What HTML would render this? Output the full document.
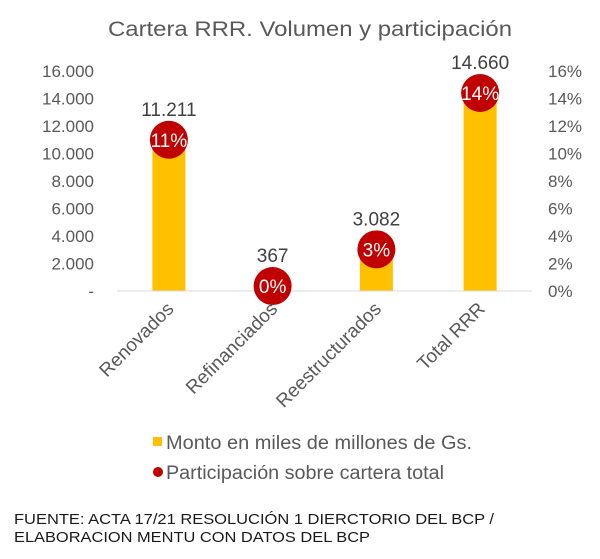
<!DOCTYPE html>
<html><head><meta charset="utf-8"><style>
body{margin:0;background:#fff;}
svg{display:block;font-family:"Liberation Sans",sans-serif;}
</style></head><body>
<svg width="600" height="559" viewBox="0 0 600 559" id="c">
<text x="108" y="36" font-size="21" fill="#595959" textLength="404" lengthAdjust="spacingAndGlyphs">Cartera RRR.  Volumen  y participación</text>
<g id="plot"></g>
<g>
<rect x="153" y="437" width="9" height="9" fill="#FFC000"/>
<text x="166" y="449" font-size="19" fill="#595959" textLength="306" lengthAdjust="spacingAndGlyphs">Monto en miles de millones de Gs.</text>
<circle cx="158" cy="472" r="5" fill="#C00000"/>
<text x="166" y="479" font-size="19" fill="#595959" textLength="278" lengthAdjust="spacingAndGlyphs">Participación sobre cartera total</text>
</g>
<text x="14" y="524" font-size="15" fill="#1a1a1a" textLength="480" lengthAdjust="spacingAndGlyphs">FUENTE: ACTA 17/21 RESOLUCIÓN 1 DIERCTORIO DEL BCP /</text>
<text x="14" y="542" font-size="15" fill="#1a1a1a" textLength="356" lengthAdjust="spacingAndGlyphs">ELABORACION MENTU CON DATOS DEL BCP</text>
</svg>
<script>
const categories=["Renovados","Refinanciados","Reestructurados","Total RRR"];
const montos=[11211,367,3082,14660];
const montoLabels=["11.211","367","3.082","14.660"];
const shares=[11.0,0.36,3.03,14.4];
const shareLabels=["11%","0%","3%","14%"];
const leftTicks=[0,2000,4000,6000,8000,10000,12000,14000,16000];
const leftTickLabels=["-","2.000","4.000","6.000","8.000","10.000","12.000","14.000","16.000"];
const rightTicks=[0,2,4,6,8,10,12,14,16];

const NS="http://www.w3.org/2000/svg";
const g=document.getElementById('plot');
const x0=117,x1=532,y0=291,y1=71;
const band=(x1-x0)/categories.length;
const xC=i=>x0+band*(i+0.5);
const yL=v=>y0-(v/16000)*(y0-y1);
const yR=v=>y0-(v/16)*(y0-y1);
function mk(t,a,txt){const e=document.createElementNS(NS,t);for(const k in a)e.setAttribute(k,a[k]);if(txt!=null)e.textContent=txt;g.appendChild(e);return e;}
leftTicks.forEach((v,i)=>{
 const e=mk('text',{x:94,y:yL(v)+6,'text-anchor':'end','font-size':17,fill:'#595959'},leftTickLabels[i]);
 
 
});
rightTicks.forEach(v=>{
 const e=mk('text',{x:548,y:yR(v)+6,'font-size':17,fill:'#595959'},v+'%');
 
 
});
const bw=33;
montos.forEach((v,i)=>{
 const r=mk('rect',{x:xC(i)-bw/2,y:yL(v),width:bw,height:y0-yL(v),fill:'#FFC000'});
 
 
});
const ax=mk('line',{x1:x0,y1:y0,x2:x1,y2:y0,stroke:'#d9d9d9','stroke-width':1});


shares.forEach((v,i)=>{
 const cy=yR(v);
 const c=mk('circle',{cx:xC(i),cy:cy,r:19,fill:'#C00000'});
 
 
 const t=mk('text',{x:xC(i),y:cy+7,'text-anchor':'middle','font-size':19,fill:'#fff'},shareLabels[i]);
 
 
 const lbl=mk('text',{x:xC(i),y:cy-24,'text-anchor':'middle','font-size':19,fill:'#404040'},montoLabels[i]);
 
 
});
categories.forEach((c,i)=>{
 const px=xC(i)+6,py=310;
 const t=mk('text',{x:px,y:py,'text-anchor':'end','font-size':19,fill:'#595959',transform:`rotate(-45 ${px} ${py})`},c);
 
 
});
</script>
</body></html>
